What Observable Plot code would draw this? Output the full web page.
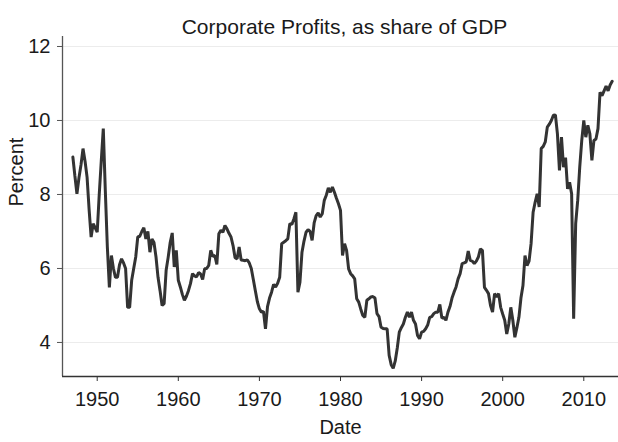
<!DOCTYPE html>
<html><head><meta charset="utf-8">
<script src="https://cdn.jsdelivr.net/npm/d3@7"></script>
<script src="https://cdn.jsdelivr.net/npm/@observablehq/plot@0.6"></script>
<style>html,body{margin:0;padding:0;background:#fff} svg{display:block}</style>
</head><body><div id="chart"></div>
<script>
const title = "Corporate Profits, as share of GDP";
const xLabel = "Date";
const yLabel = "Percent";
const startYear = 1947;           // first quarter of the series: 1947 Q1
const xTicks = [1950, 1960, 1970, 1980, 1990, 2000, 2010];
const yTicks = [4, 6, 8, 10, 12];
// Quarterly corporate profits as % of GDP (1947Q1 .. 2013Q3)
const profitShare = [
  9.01, 8.5, 8.02, 8.45,      // 1947
  8.8, 9.24, 8.9, 8.47,       // 1948
  7.6, 6.85, 7.21, 7.1,       // 1949
  6.98, 8.0, 8.9, 9.78,       // 1950
  8.1, 6.58, 5.49, 6.35,      // 1951
  6.0, 5.76, 5.76, 6.1,       // 1952
  6.26, 6.15, 6.0, 4.95,      // 1953
  4.95, 5.68, 6.0, 6.31,      // 1954
  6.85, 6.87, 7.0, 7.1,       // 1955
  6.8, 7.0, 6.44, 6.8,        // 1956
  6.7, 6.31, 5.76, 5.4,       // 1957
  5.0, 5.05, 5.95, 6.3,       // 1958
  6.7, 6.96, 6.04, 6.49,      // 1959
  5.68, 5.5, 5.3, 5.14,       // 1960
  5.25, 5.4, 5.59, 5.86,      // 1961
  5.8, 5.77, 5.89, 5.85,      // 1962
  5.7, 5.99, 6.0, 6.08,       // 1963
  6.49, 6.33, 6.35, 6.11,     // 1964
  6.94, 7.03, 6.98, 7.16,     // 1965
  7.07, 6.95, 6.85, 6.62,     // 1966
  6.29, 6.26, 6.58, 6.23,     // 1967
  6.22, 6.21, 6.23, 6.15,     // 1968
  6.0, 5.7, 5.4, 5.1,         // 1969
  4.91, 4.82, 4.84, 4.37,     // 1970
  4.97, 5.2, 5.36, 5.57,      // 1971
  5.5, 5.6, 5.76, 6.67,       // 1972
  6.71, 6.75, 6.8, 7.21,      // 1973
  7.19, 7.34, 7.52, 5.36,     // 1974
  5.63, 6.44, 6.74, 6.98,     // 1975
  7.05, 7.0, 6.76, 7.23,      // 1976
  7.43, 7.5, 7.39, 7.48,      // 1977
  7.84, 7.98, 8.18, 8.06,     // 1978
  8.2, 8.06, 7.9, 7.75,       // 1979
  7.57, 6.35, 6.67, 6.49,     // 1980
  5.99, 5.86, 5.8, 5.72,      // 1981
  5.18, 5.09, 4.9, 4.73,      // 1982
  4.68, 5.14, 5.18, 5.23,     // 1983
  5.24, 5.2, 4.78, 4.7,       // 1984
  4.41, 4.38, 4.37, 4.37,     // 1985
  3.65, 3.4, 3.3, 3.5,        // 1986
  3.85, 4.28, 4.4, 4.5,       // 1987
  4.68, 4.82, 4.68, 4.82,     // 1988
  4.6, 4.5, 4.19, 4.1,        // 1989
  4.28, 4.3, 4.37, 4.47,      // 1990
  4.68, 4.7, 4.78, 4.82,      // 1991
  4.82, 5.03, 4.66, 4.68,     // 1992
  4.6, 4.82, 4.97, 5.2,       // 1993
  5.36, 5.5, 5.72, 5.86,      // 1994
  6.13, 6.15, 6.18, 6.47,     // 1995
  6.22, 6.2, 6.13, 6.2,       // 1996
  6.31, 6.53, 6.49, 5.49,     // 1997
  5.41, 5.32, 5.0, 4.82,      // 1998
  5.32, 5.23, 5.32, 4.95,     // 1999
  4.77, 4.6, 4.23, 4.5,       // 2000
  4.95, 4.6, 4.14, 4.4,       // 2001
  4.68, 5.2, 5.54, 6.35,      // 2002
  6.08, 6.2, 6.67, 7.52,      // 2003
  7.79, 8.02, 7.66, 9.24,     // 2004
  9.3, 9.42, 9.82, 9.9,       // 2005
  10.0, 10.14, 10.15, 9.64,   // 2006
  8.65, 9.55, 8.74, 9.0,      // 2007
  8.15, 8.33, 8.02, 4.64,     // 2008
  7.21, 7.84, 8.74, 9.46,     // 2009
  10.0, 9.55, 9.87, 9.64,     // 2010
  8.92, 9.46, 9.5, 9.78,      // 2011
  10.76, 10.67, 10.8, 10.93,  // 2012
  10.8, 10.96, 11.06          // 2013
];

const data = profitShare.map((v, i) => ({date: startYear + i / 4, value: v}));
const xDomain = [1945.72, 2014.28];
const yDomain = [3.08, 12.27];
const font = "'Liberation Sans', Arial, Helvetica, sans-serif";

const chart = Plot.plot({
  width: 618,
  height: 442,
  marginLeft: 62,
  marginRight: 0,
  marginTop: 36,
  marginBottom: 66,
  style: {fontFamily: font, fontSize: "20px", color: "#1a1a1a", background: "#fff"},
  x: {domain: xDomain},
  y: {domain: yDomain},
  marks: [
    Plot.ruleY(yTicks, {stroke: "#ececec", strokeWidth: 1}),
    Plot.axisY({ticks: yTicks, tickSize: 5, tickPadding: 7, label: null, fontSize: 20, stroke: "#555"}),
    Plot.axisX({ticks: xTicks, tickFormat: d => String(d), tickSize: 5, tickPadding: 10, label: null, fontSize: 20, stroke: "#333"}),
    Plot.ruleX([xDomain[0]], {stroke: "#555", strokeWidth: 1.3}),
    Plot.ruleY([yDomain[0]], {stroke: "#333", strokeWidth: 1.3}),
    Plot.line(data, {x: "date", y: "value", stroke: "#333", strokeWidth: 3, strokeLinejoin: "miter"}),
    Plot.text([title], {frameAnchor: "top", dx: 4, dy: -17, fontSize: 21, fill: "#1a1a1a"}),
    Plot.text([xLabel], {frameAnchor: "bottom", dy: 57, fontSize: 20, fill: "#1a1a1a"}),
    Plot.text([yLabel], {frameAnchor: "left", dx: -46, rotate: -90, fontSize: 20, fill: "#1a1a1a"})
  ]
});
document.getElementById("chart").append(chart);
</script>
</body></html>
